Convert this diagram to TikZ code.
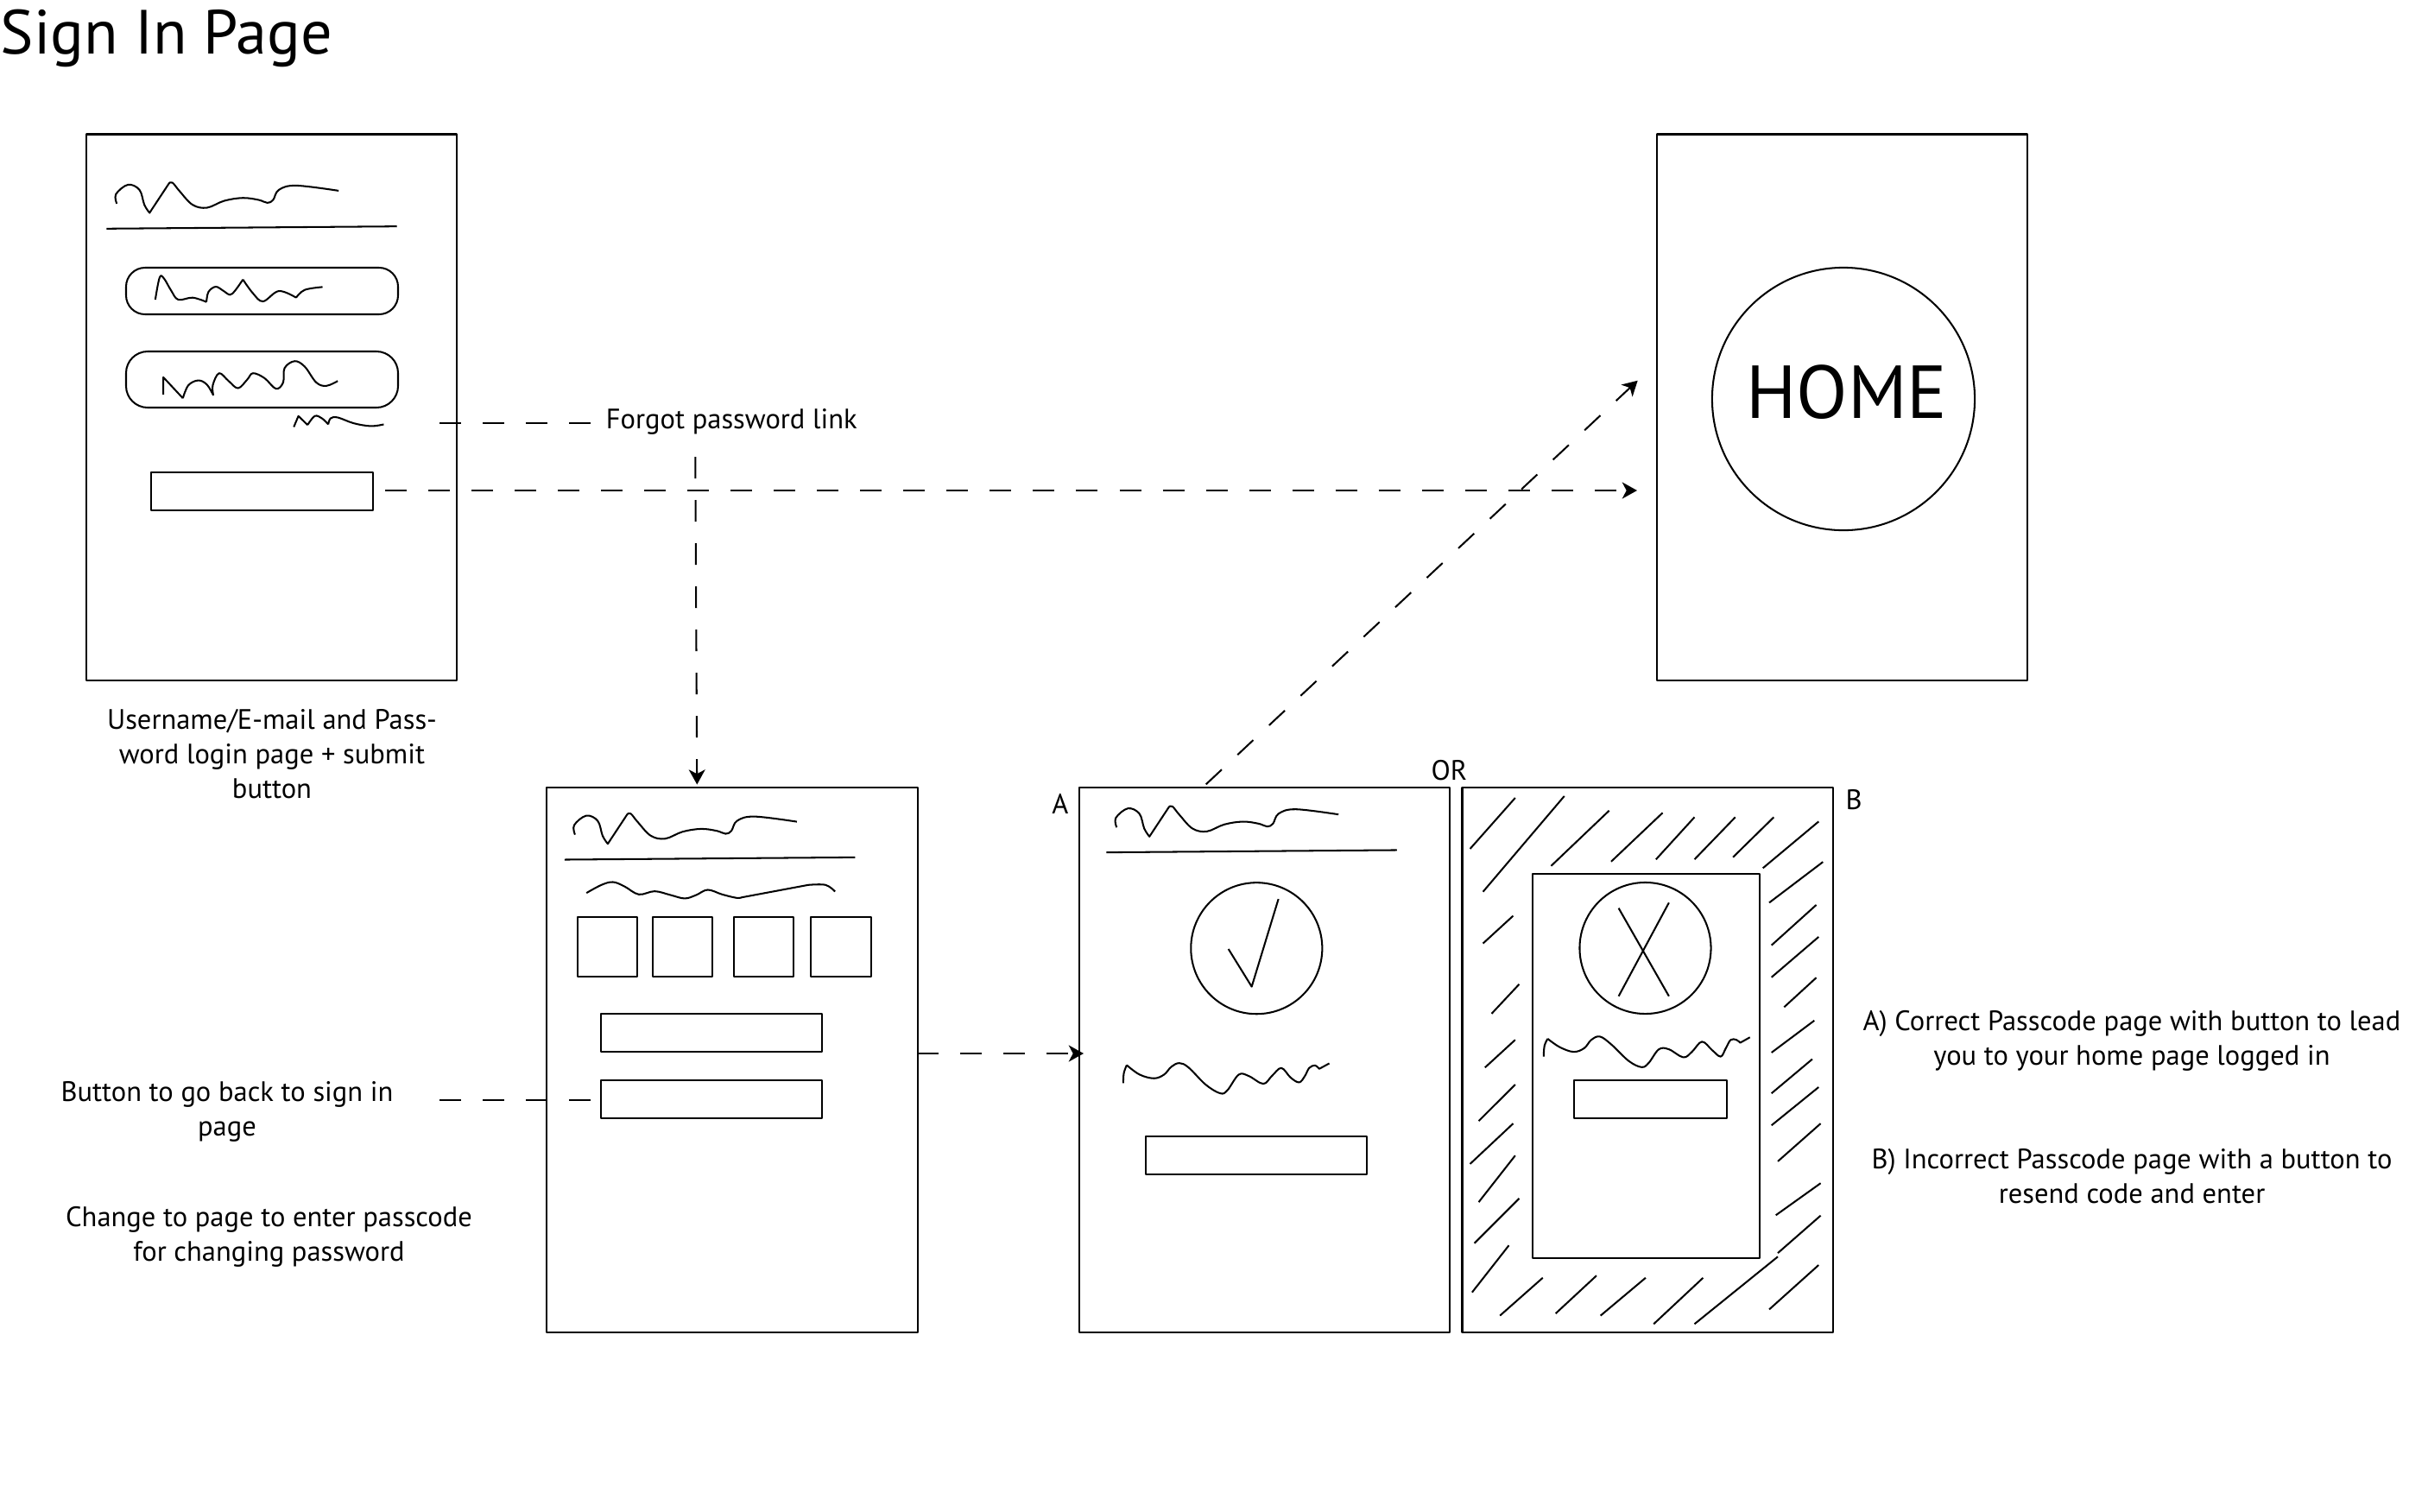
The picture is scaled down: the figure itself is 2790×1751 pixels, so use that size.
\documentclass[tikz,border=0pt]{standalone}
\usepackage{fontspec}
\setmainfont{PT Sans}
\usetikzlibrary{arrows.meta}
\tikzset{
  ink/.style={line width=.58pt,black,line join=round},
  boxnode/.style={draw,ink,inner sep=0pt,outer sep=0pt,anchor=north west},
  dashline/.style={ink,dash pattern=on 2.5mm off 2.5mm},
  arrowline/.style={dashline,-{Stealth[length=4.9pt,width=5.4pt,inset=1.4pt]}},
  label/.style={inner sep=0pt,align=center,font=\fontsize{9.25}{11.4}\selectfont},
  smoothp/.style={smooth,tension=.6},
  zoomA/.style={x=0.0033333cm,y=-0.0033333cm},
  zoomB/.style={x=0.0033333cm,y=-0.004207cm}
}
\newcommand{\boxat}[6][]{\node[boxnode,#1,minimum width={(#5-#3)*0.01cm},minimum height={(#6-#4)*0.01cm}] (#2) at (#3,#4) {};}
\newcommand{\titlemark}{%
  \draw[ink] plot[smoothp] coordinates {(136,258)(133,225)(175,192)(215,210)(232,262)(250,290)}
    -- (318,187) -- plot[smoothp] coordinates {(318,187)(330,185)(355,215)(400,262)(450,272)(510,248)(575,238)(630,245)(660,255)(680,245)(700,210)(760,195)(908,213)};
  \draw[ink] (100,345) -- (1111,337);
}
\begin{document}
\begin{tikzpicture}[x=0.01cm,y=-0.01cm]
\useasboundingbox (0,0) rectangle (2790,1751);
% page frames
\boxat{signin}{100}{155.5}{529}{788}
\boxat{home}{1918.5}{155.5}{2347.5}{788}
\boxat{passcode}{633}{912}{1063}{1543}
\boxat{pagea}{1250}{912}{1679}{1543}
\boxat{pageb}{1693.5}{912}{2123}{1543}
% sign in page
\boxat[rounded corners=2.2mm]{field}{146}{310}{461}{364}
\boxat[rounded corners=2.5mm]{pass}{146}{407}{461}{472}
\boxat{submit}{175}{547}{432}{591}
\begin{scope}[shift={(90,150)},zoomA]
\titlemark
\draw[ink] plot[smoothp] coordinates {(270,592)(285,515)(300,518)(325,560)(350,592)(400,585)(448,600)}
  plot[smoothp] coordinates {(448,600)(455,565)(480,547)(505,560)(530,575)(548,560)(575,522)}
  plot[smoothp] coordinates {(575,522)(610,570)(645,598)(700,562)(760,585)}
  plot[smoothp] coordinates {(760,585)(790,558)(852,548)};
\draw[ink] (298,922) -- (298,862) -- (366,935)
  plot[smoothp] coordinates {(366,935)(385,890)(420,873)(450,888)(472,925)}
  plot[smoothp] coordinates {(472,925)(470,890)(492,848)(525,875)(558,900)(590,870)(610,848)(650,865)(690,902)(715,880)(720,830)(755,806)(790,825)(830,880)(865,892)(905,875)};
\draw[ink] (752,1035) -- (768,997) -- (800,1028)
  plot[smoothp] coordinates {(800,1028)(825,997)(850,1005)(872,1026)}
  plot[smoothp] coordinates {(872,1026)(880,1005)(905,1002)(960,1022)(1020,1032)(1065,1026)};
\end{scope}
% home page
\node[draw,ink,circle,inner sep=0pt,outer sep=0pt,minimum size=3.04cm] (homecircle) at (2135,462) {};
\node[inner sep=0pt,font=\fontsize{24.7}{30}\selectfont] (hometext) at (2139,454) {HOME};
% passcode page
\begin{scope}[shift={(530.7,730.7)}]
\begin{scope}[shift={(90,150)},zoomA]
\titlemark
\end{scope}
\end{scope}
\begin{scope}[shift={(620,900)},zoomA]
\draw[ink] plot[smoothp] coordinates {(178,403)(230,375)(270,365)(310,380)(360,408)(415,397)(470,410)(520,422)(560,410)(600,392)(650,408)(700,420)(720,418)} -- (950,375) -- plot[smoothp] coordinates {(950,375)(1010,375)(1043,398)};
\end{scope}
\boxat{digita}{669}{1062}{738}{1131}
\boxat{digitb}{756}{1062}{825}{1131}
\boxat{digitc}{850}{1062}{919}{1131}
\boxat{digitd}{939}{1062}{1009}{1131}
\boxat{enterbtn}{696}{1174}{952}{1218}
\boxat{backbtn}{696}{1251}{952}{1295}
% page A
\begin{scope}[shift={(1158,722.3)}]
\begin{scope}[shift={(90,150)},zoomA]
\titlemark
\end{scope}
\end{scope}
\node[draw,ink,circle,inner sep=0pt,outer sep=0pt,minimum size=1.52cm] (okcircle) at (1455.3,1098.2) {};
\begin{scope}[shift={(1240,900)},zoomA]
\draw[ink] (549,598) -- (630,729) -- (723,424);
\draw[ink] plot[smoothp] coordinates {(183,1065)(185,1030)(195,1002)}
  plot[smoothp] coordinates {(195,1002)(240,1035)(290,1048)(325,1035)(350,1008)(378,995)(410,1010)(470,1070)(520,1100)(545,1090)(585,1035)(620,1040)(670,1067)(700,1040)(733,1012)(765,1045)(795,1062)(815,1040)(830,1012)(850,1003)(865,1015)} -- (900,996);
\end{scope}
\boxat{okbtn}{1327}{1316}{1583}{1360}
% page B
\boxat{inner}{1775}{1012}{2038}{1457}
\node[draw,ink,circle,inner sep=0pt,outer sep=0pt,minimum size=1.52cm] (failcircle) at (1905.5,1098) {};
\boxat{failbtn}{1823}{1251}{2000}{1295}
\begin{scope}[shift={(1640,900)},zoomB]
\draw[ink] (705,360) -- (880,602) (880,345) -- (705,602);
\draw[ink] plot[smoothp] coordinates {(444,768)(447,738)(458,719)}
  plot[smoothp] coordinates {(458,719)(500,742)(548,755)(585,745)(610,722)(640,713)(680,735)(740,780)(785,797)(810,785)(845,748)(880,748)(930,770)(960,755)(995,727)(1030,750)(1060,768)(1078,745)(1095,722)(1115,722)(1128,730)} -- (1162,715);
\foreach \a/\b/\c/\d in {188/197/345/57,233/315/516/52,470/244/672/92,679/232/858/98,835/226/969/110,969/226/1111/110,1103/220/1245/110,1207/250/1401/122,1229/345/1416/233,1237/462/1393/351,1237/550/1401/439,1281/632/1393/551,1237/757/1386/669,1237/869/1379/775,1237/957/1401/852,1259/1056/1408/952,1252/1204/1408/1116,1259/1308/1408/1205,1229/1463/1401/1341,969/1503/1259/1318,827/1503/999/1376,642/1480/799/1376,486/1474/628/1370,292/1480/441/1376,195/1416/323/1287,203/1281/359/1158,218/1168/345/1040,188/1063/338/952,218/945/345/845,240/798/345/722,263/650/359/569,233/457/338/381}
  \draw[ink] (\a,\b) -- (\c,\d);
\end{scope}
% labels
\node[inner sep=0pt,anchor=west,font=\fontsize{20.55}{24}\selectfont] (title) at (0,44) {Sign In Page};
\node[label] (signinlabel) at (315,873) {Username/E-mail and Pass-\\word login page + submit\\button};
\node[label] (forgotlabel) at (847.3,488) {Forgot password link};
\node[label] (backlabel) at (263,1287) {Button to go back to sign in\\page};
\node[label] (changelabel) at (311.5,1432) {Change to page to enter passcode\\for changing password};
\node[label] (alabel) at (1228,930.5) {A};
\node[label] (blabel) at (2147,926) {B};
\node[label] (orlabel) at (1678.5,892) {OR};
\node[label] (adesc) at (2469,1205) {A) Correct Passcode page with button to lead\\you to your home page logged in};
\node[label] (bdesc) at (2469,1362.5) {B) Incorrect Passcode page with a button to\\resend code and enter};
% connector ends
\coordinate (forgotstart) at (509,490);
\coordinate (forgotend) at (684,490);
\coordinate (submitstart) at (446,568);
\coordinate (submitend) at (1896,568);
\coordinate (downstart) at (805.3,529);
\coordinate (downend) at (807.3,908.5);
\coordinate (diagstart) at (1396.7,908.3);
\coordinate (diagend) at (1896.7,440.7);
\coordinate (astart) at (1062,1220);
\coordinate (aend) at (1255,1220);
\coordinate (backstart) at (509,1274);
\coordinate (backend) at (684,1274);
\draw[dashline] (forgotstart) -- (forgotend);
\draw[dashline] (backstart) -- (backend);
\draw[arrowline] (submitstart) -- (submitend);
\draw[arrowline] (downstart) -- (downend);
\draw[arrowline] (diagstart) -- (diagend);
\draw[arrowline] (astart) -- (aend);
\end{tikzpicture}
\end{document}
